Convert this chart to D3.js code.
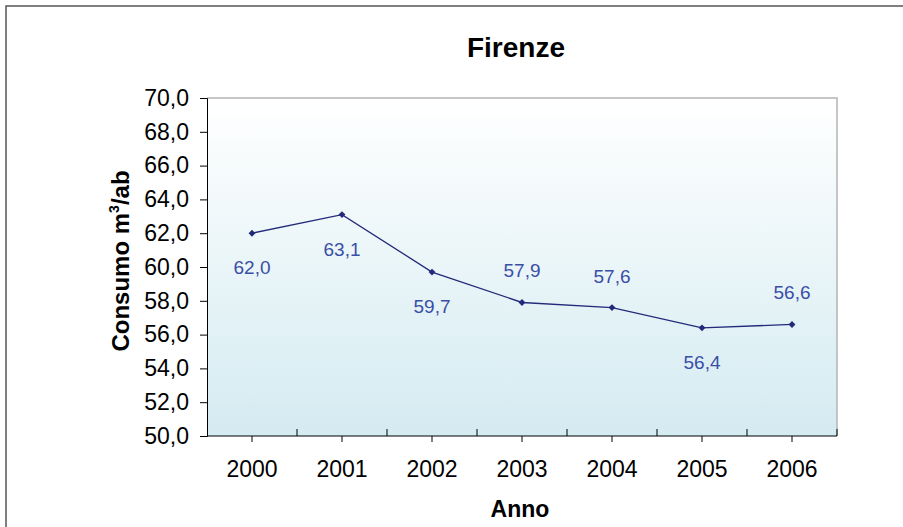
<!DOCTYPE html>
<html>
<head>
<meta charset="utf-8">
<script src="https://cdn.jsdelivr.net/npm/d3@7"></script>
<style>
  body { margin: 0; background: #fff; }
  svg { display: block; font-family: Arial, "Liberation Sans", sans-serif; }
</style>
</head>
<body>
<svg id="chart" width="903" height="527"></svg>
<script>
// ====== Dati ======
const anni = ["2000", "2001", "2002", "2003", "2004", "2005", "2006"];
const consumo = [62.0, 63.1, 59.7, 57.9, 57.6, 56.4, 56.6];
// etichetta sopra (-1) o sotto (+1) il punto, come nel grafico originale
const posEtichetta = [1, 1, 1, -1, -1, 1, -1];
const yTicks = [50, 52, 54, 56, 58, 60, 62, 64, 66, 68, 70];

const fmt = v => v.toFixed(1).replace(".", ",");

// ====== Layout ======
const svg = d3.select("#chart");
const plot = { left: 207, right: 837, top: 98, bottom: 436 };

// cornice esterna (tagliata a destra e in basso)
svg.append("rect")
  .attr("x", 6).attr("y", 6)
  .attr("width", 910).attr("height", 540)
  .attr("fill", "#fff")
  .attr("stroke", "#555").attr("stroke-width", 1.5);

// sfondo con gradiente
const grad = svg.append("defs").append("linearGradient")
  .attr("id", "bg").attr("x1", 0).attr("y1", 0).attr("x2", 0).attr("y2", 1);
grad.append("stop").attr("offset", "0%").attr("stop-color", "#ffffff");
grad.append("stop").attr("offset", "100%").attr("stop-color", "#d4ebf1");

svg.append("rect")
  .attr("x", plot.left).attr("y", plot.top)
  .attr("width", plot.right - plot.left).attr("height", plot.bottom - plot.top)
  .attr("fill", "url(#bg)");

// bordo superiore e destro grigio
svg.append("path")
  .attr("d", `M${plot.left},${plot.top}H${plot.right}V${plot.bottom}`)
  .attr("fill", "none").attr("stroke", "#b4b4b4").attr("stroke-width", 1.5);

// ====== Scale ======
const x = d3.scaleBand().domain(anni).range([plot.left, plot.right]);
const y = d3.scaleLinear().domain([50, 70]).range([plot.bottom, plot.top]);
const cx = d => x(d) + x.bandwidth() / 2;

// ====== Assi ======
const yAxis = svg.append("g")
  .attr("transform", `translate(${plot.left},0)`)
  .call(d3.axisLeft(y).tickValues(yTicks).tickFormat(fmt).tickSize(7).tickPadding(11));
yAxis.select(".domain").attr("stroke", "#000");
yAxis.selectAll("line").attr("stroke", "#000");
yAxis.selectAll("text").attr("font-size", 23).attr("fill", "#000");

const xAxis = svg.append("g")
  .attr("transform", `translate(0,${plot.bottom})`)
  .call(d3.axisBottom(x).tickSize(6).tickPadding(19));
xAxis.select(".domain").attr("stroke", "#000").attr("d", `M${plot.left},0H${plot.right}`);
xAxis.selectAll("line").attr("stroke", "#000");
xAxis.selectAll("text").attr("font-size", 23).attr("fill", "#000");

// tacche di separazione tra categorie (verso l'interno)
const confini = anni.map(d => x(d) + x.bandwidth());
xAxis.selectAll(".sep")
  .data(confini)
  .join("line")
  .attr("class", "sep")
  .attr("x1", d => d).attr("x2", d => d)
  .attr("y1", 0).attr("y2", -7)
  .attr("stroke", "#000");

// ====== Linea e marcatori ======
const dati = anni.map((a, i) => ({ anno: a, v: consumo[i], pos: posEtichetta[i] }));

svg.append("path")
  .datum(dati)
  .attr("fill", "none")
  .attr("stroke", "#232a7a")
  .attr("stroke-width", 1.3)
  .attr("d", d3.line().x(d => cx(d.anno)).y(d => y(d.v)));

svg.selectAll(".marker")
  .data(dati)
  .join("path")
  .attr("class", "marker")
  .attr("transform", d => `translate(${cx(d.anno)},${y(d.v)})`)
  .attr("d", d3.symbol(d3.symbolDiamond2, 30))
  .attr("fill", "#232a7a");

svg.selectAll(".etichetta")
  .data(dati)
  .join("text")
  .attr("class", "etichetta")
  .attr("x", d => cx(d.anno))
  .attr("y", d => y(d.v) + (d.pos > 0 ? 41 : -25))
  .attr("text-anchor", "middle")
  .attr("font-size", 19)
  .attr("fill", "#3a4ea6")
  .text(d => fmt(d.v));

// ====== Titoli ======
svg.append("text")
  .attr("x", 516).attr("y", 57)
  .attr("text-anchor", "middle")
  .attr("font-size", 28).attr("font-weight", "bold")
  .text("Firenze");

svg.append("text")
  .attr("x", 520).attr("y", 517)
  .attr("text-anchor", "middle")
  .attr("font-size", 23).attr("font-weight", "bold")
  .text("Anno");

const yt = svg.append("text")
  .attr("transform", "translate(129,261) rotate(-90)")
  .attr("text-anchor", "middle")
  .attr("font-size", 24).attr("font-weight", "bold");
yt.append("tspan").text("Consumo m");
yt.append("tspan").attr("font-size", 14).attr("dy", -10).text("3");
yt.append("tspan").attr("dy", 10).text("/ab");
</script>
</body>
</html>
